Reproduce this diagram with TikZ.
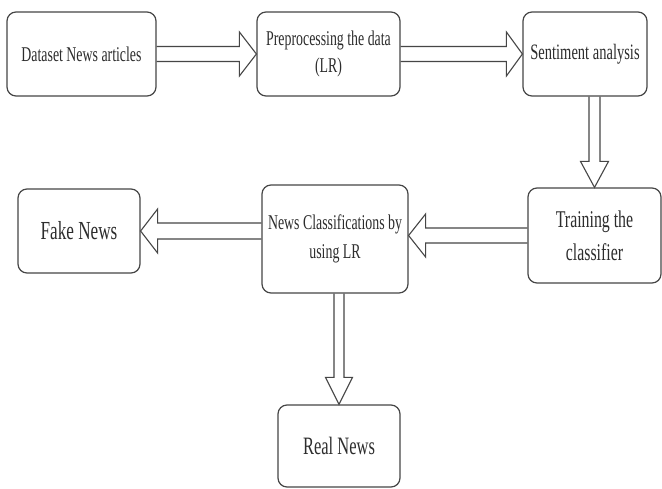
\documentclass[tikz,border=0pt]{standalone}
\usepackage{fontspec}
\setmainfont{Liberation Serif}[FakeStretch=0.66]
\usetikzlibrary{calc}

\definecolor{linegray}{RGB}{70,70,70}
\definecolor{textgray}{RGB}{45,45,45}

\tikzset{
    box/.style={draw=linegray, line width=1.2pt, rounded corners=9pt,
        align=center, text=textgray, inner sep=2pt},
    arrowline/.style={draw=linegray, line width=1.1pt, line join=miter},
}

% hollow block arrow: tail, tip, half shaft, half head, head length
\newcommand{\blockarrow}[5]{%
    \coordinate (ba-base) at ($(#2)!#5!(#1)$);
    \draw[arrowline] ($(#1)!#3!90:(#2)$) -- ($(ba-base)!#3!90:(#2)$)
        -- ($(ba-base)!#4!90:(#2)$) -- (#2) -- ($(ba-base)!#4!-90:(#2)$)
        -- ($(ba-base)!#3!-90:(#2)$) -- ($(#1)!#3!-90:(#2)$);
}

\begin{document}
\begin{tikzpicture}[x=1pt, y=-1pt]
    \fill[white] (0,0) rectangle (662,488);
    \useasboundingbox (0,0) rectangle (662,488);

    % top row
    \node[box, minimum width=149pt, minimum height=84pt, font=\fontsize{21}{27}\selectfont]
        (dataset) at (81.5,54) {Dataset News articles};
    \node[box, minimum width=143pt, minimum height=84pt, font=\fontsize{21}{27}\selectfont]
        (prep) at (328.5,54) {Preprocessing the data\\(LR)};
    \node[box, minimum width=124pt, minimum height=84pt, font=\fontsize{22}{28}\selectfont]
        (senti) at (585,54) {Sentiment analysis};

    % middle row
    \node[box, minimum width=133pt, minimum height=95pt, font=\fontsize{24}{33}\selectfont]
        (train) at (594.5,235.5) {Training the\\classifier};
    \node[box, minimum width=146pt, minimum height=108pt, font=\fontsize{21}{29}\selectfont]
        (classify) at (335,239) {News Classifications by\\using LR};
    \node[box, minimum width=122pt, minimum height=84pt, font=\fontsize{26}{30}\selectfont]
        (fake) at (79,231) {Fake News};

    % bottom
    \node[box, minimum width=122pt, minimum height=82pt, font=\fontsize{25}{30}\selectfont]
        (real) at (339,446) {Real News};

    \coordinate (senti-out) at (senti.south -| train.north);
    \coordinate (train-in) at (classify.east |- train.west);
    \coordinate (fake-out) at (classify.west |- fake.east);
    \coordinate (real-out) at (classify.south -| real.north);

    \blockarrow{dataset.east}{prep.west}{7.5pt}{22pt}{17pt}
    \blockarrow{prep.east}{senti.west}{7.5pt}{22pt}{16pt}
    \blockarrow{senti-out}{train.north}{5.5pt}{14pt}{26pt}
    \blockarrow{train.west}{train-in}{7.5pt}{21.5pt}{17pt}
    \blockarrow{fake-out}{fake.east}{8pt}{22pt}{17pt}
    \blockarrow{real-out}{real.north}{5pt}{13.5pt}{27pt}
\end{tikzpicture}
\end{document}
